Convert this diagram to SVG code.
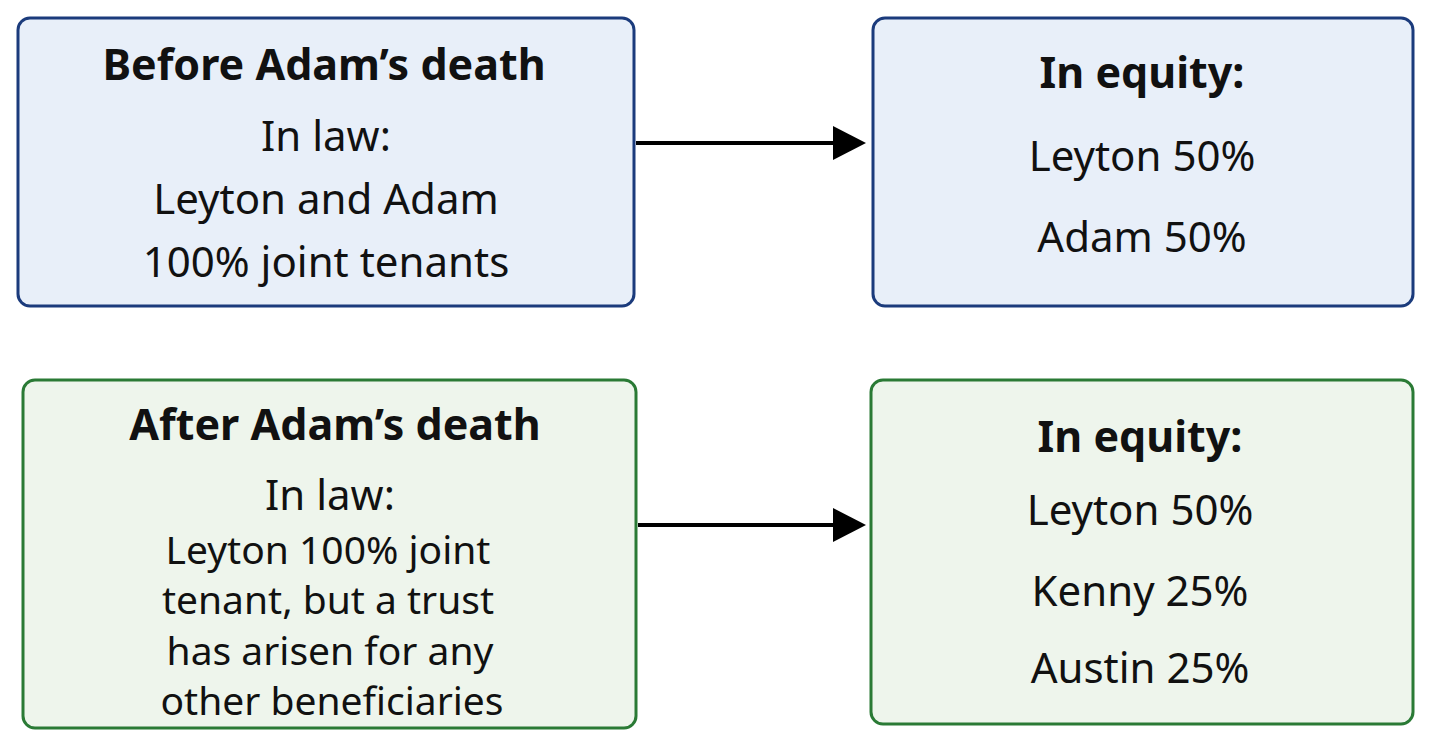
<svg xmlns="http://www.w3.org/2000/svg" width="1432" height="748" viewBox="0 0 1432 748">
<style>
.b{fill:#e8eff9;stroke:#1b3b7c;stroke-width:3}
.g{fill:#eef5ec;stroke:#2a7a35;stroke-width:3}
text{font-family:"Noto Sans","DejaVu Sans",sans-serif;font-size:42px;fill:#111;text-anchor:middle}
.t{font-weight:bold;font-size:43px}
.s{font-size:39px}
.c{stroke:#000;stroke-width:4;fill:none}
</style>
<rect width="1432" height="748" fill="#fff"/>
<g id="n1"><rect class="b" x="18" y="18" width="616" height="288" rx="12"/>
<text class="t" x="324" y="80">Before Adam’s death</text>
<text x="326" y="151">In law:</text><text x="326" y="214">Leyton and Adam</text><text x="326" y="277">100% joint tenants</text></g>
<g id="n2"><rect class="b" x="873" y="18" width="540" height="288" rx="12"/>
<text class="t" x="1142" y="88">In equity:</text>
<text x="1142" y="171">Leyton 50%</text><text x="1142" y="252">Adam 50%</text></g>
<g id="n3"><rect class="g" x="23" y="380" width="613" height="348" rx="12"/>
<text class="t" x="335" y="440">After Adam’s death</text>
<text x="330" y="510">In law:</text><text class="s" x="328" y="564">Leyton 100% joint</text><text class="s" x="328" y="614">tenant, but a trust</text><text class="s" x="330" y="665">has arisen for any</text><text class="s" x="332" y="715">other beneficiaries</text></g>
<g id="n4"><rect class="g" x="871" y="380" width="542" height="344" rx="12"/>
<text class="t" x="1140" y="452">In equity:</text>
<text x="1140" y="525">Leyton 50%</text><text x="1140" y="606">Kenny 25%</text><text x="1140" y="683">Austin 25%</text></g>
<g id="connectors">
<path class="c" d="M636,143H836"/>
<path class="c" d="M638,525H836"/>
<path d="M833,126L866,143L833,160z"/><path d="M833,508L866,525L833,542z"/>
</g>
</svg>
